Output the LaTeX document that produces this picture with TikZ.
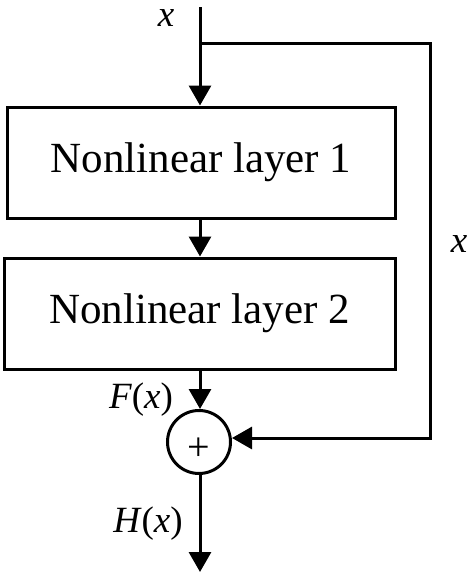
\documentclass[tikz,border=0pt]{standalone}
\usepackage{fontspec}
\setmainfont{Liberation Serif}
\usetikzlibrary{arrows.meta}
\begin{document}
\begin{tikzpicture}[x=1pt,y=-1pt,
  line width=3pt,
  arr/.style={-{Triangle[width=22pt,length=20pt]}},
  layerbox/.style={draw,rectangle,line width=3pt,inner sep=0pt,font=\fontsize{43}{50}\selectfont},
  sumnode/.style={draw,circle,line width=3pt,minimum size=63pt,inner sep=0pt,font=\fontsize{40}{46}\selectfont},
  lbl/.style={inner sep=0pt,anchor=base,font=\fontsize{37}{44}\selectfont}]
\useasboundingbox (0,0) rectangle (472,576);
\node[layerbox,minimum width=388pt,minimum height=111pt] (l1) at (201,162.5) {Nonlinear layer 1};
\node[layerbox,minimum width=391pt,minimum height=111pt] (l2) at (199.5,313.5) {Nonlinear layer 2};
\node[sumnode] (sum) at (199,442) {\raisebox{-18pt}[0pt][0pt]{+}};
\coordinate (in) at (200,7);
\coordinate (br) at (200,43);
\coordinate (c1) at (430,43);
\coordinate (c2) at (430,438);
\coordinate (out) at (200,572);
\draw[arr] (in) -- (l1.north -| in);
\draw[arr] (l1.south -| in) -- (l2.north -| in);
\draw[arr] (l2.south -| in) -- (sum.north -| in);
\draw[arr] (br) -- (c1) -- (c2) -- (sum.east |- c2);
\draw[arr] (sum.south -| in) -- (out);
\node[lbl,text height=17pt] (xin) at (166,26) {\itshape x};
\node[lbl] (xsk) at (459,252) {\itshape x};
\node[lbl] (fx) at (141,408) {\textit{F}(\textit{x})};
\node[lbl] (hx) at (148,532) {\textit{H}(\textit{x})};
\end{tikzpicture}
\end{document}
